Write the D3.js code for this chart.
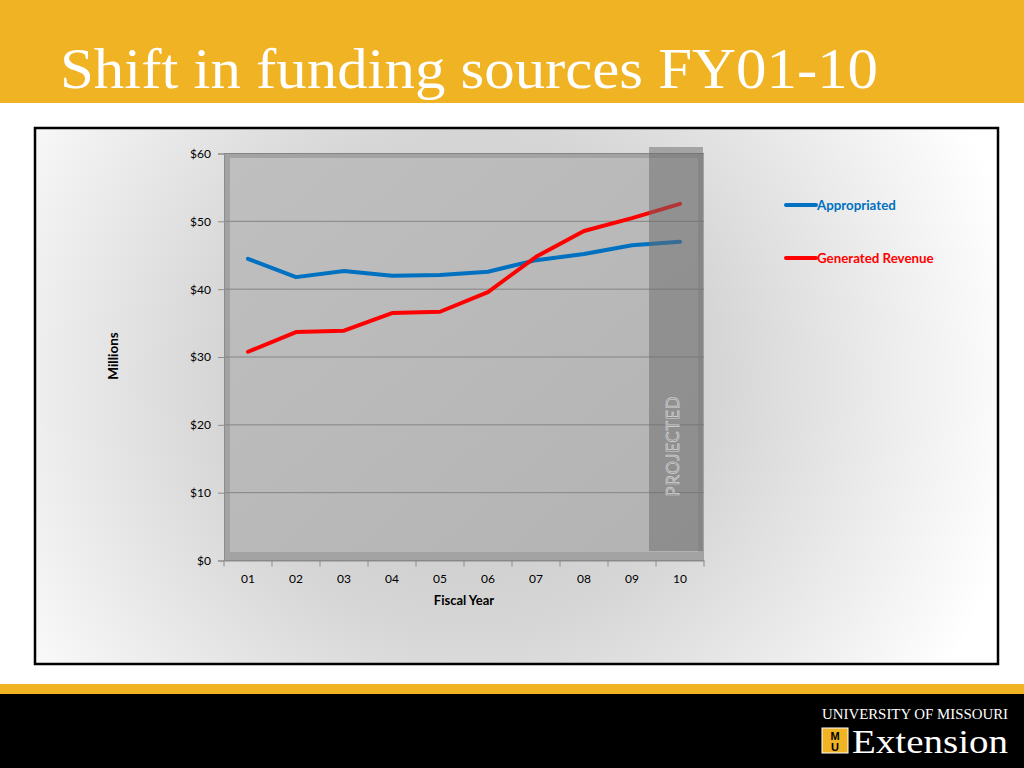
<!DOCTYPE html>
<html>
<head>
<meta charset="utf-8">
<script src="https://cdn.jsdelivr.net/npm/d3@7"></script>
<style>
  body { margin: 0; background: #fff; }
  svg { display: block; }
</style>
</head>
<body>
<svg id="slide" width="1024" height="768"></svg>
<script>
// chart values
var years = ['01', '02', '03', '04', '05', '06', '07', '08', '09', '10'];
var appropriated = [44.4, 41.7, 42.6, 41.9, 42.0, 42.5, 44.2, 45.1, 46.4, 46.9];
var generatedRevenue = [30.7, 33.6, 33.8, 36.4, 36.6, 39.5, 44.7, 48.5, 50.4, 52.5];
var yTicks = [0, 10, 20, 30, 40, 50, 60];
var projectedYears = ['10'];

var seriesList = [
  { name: 'Appropriated', values: appropriated, color: '#0070c0' },
  { name: 'Generated Revenue', values: generatedRevenue, color: '#ff0000' }
];

var svg = d3.select('#slide');
var defs = svg.append('defs');

/**
 * Slide frame: header, footer, chart box
 */
svg.append('rect')
  .attr('width', 1024).attr('height', 103)
  .attr('fill', '#f0b323');

svg.append('text')
  .attr('x', 60).attr('y', 88)
  .attr('fill', '#fff')
  .attr('font-family', '"Liberation Serif", "DejaVu Serif", serif')
  .attr('font-size', 56)
  .attr('textLength', 818)
  .attr('lengthAdjust', 'spacingAndGlyphs')
  .text('Shift in funding sources FY01-10');

var boxGrad = defs.append('radialGradient')
  .attr('id', 'box-grad')
  .attr('gradientUnits', 'userSpaceOnUse')
  .attr('cx', 470).attr('cy', 380).attr('r', 560);
boxGrad.append('stop').attr('offset', '0%').attr('stop-color', '#c4c4c4');
boxGrad.append('stop').attr('offset', '45%').attr('stop-color', '#d6d6d6');
boxGrad.append('stop').attr('offset', '100%').attr('stop-color', '#ffffff');

svg.append('rect')
  .attr('x', 35).attr('y', 128)
  .attr('width', 963).attr('height', 536)
  .attr('fill', 'url(#box-grad)')
  .attr('stroke', '#000')
  .attr('stroke-width', 2.5);

svg.append('rect')
  .attr('y', 684).attr('width', 1024).attr('height', 10)
  .attr('fill', '#f0b323');
svg.append('rect')
  .attr('y', 694).attr('width', 1024).attr('height', 74)
  .attr('fill', '#000');

// logo
var logo = svg.append('g');
logo.append('text')
  .attr('x', 822).attr('y', 719)
  .attr('fill', '#fff')
  .attr('font-family', '"Liberation Serif", serif')
  .attr('font-size', 14)
  .attr('textLength', 186)
  .attr('lengthAdjust', 'spacingAndGlyphs')
  .text('UNIVERSITY OF MISSOURI');
logo.append('rect')
  .attr('x', 822).attr('y', 728)
  .attr('width', 26).attr('height', 25)
  .attr('fill', '#f0b323')
  .attr('stroke', '#fff').attr('stroke-width', 1);
logo.append('text')
  .attr('x', 835).attr('y', 740)
  .attr('text-anchor', 'middle')
  .attr('fill', '#000')
  .attr('font-family', '"Liberation Sans", sans-serif')
  .attr('font-weight', 'bold')
  .attr('font-size', 11)
  .text('M');
logo.append('text')
  .attr('x', 835).attr('y', 751)
  .attr('text-anchor', 'middle')
  .attr('fill', '#000')
  .attr('font-family', '"Liberation Sans", sans-serif')
  .attr('font-weight', 'bold')
  .attr('font-size', 11)
  .text('U');
logo.append('text')
  .attr('x', 852).attr('y', 753)
  .attr('fill', '#fff')
  .attr('font-family', '"Liberation Serif", serif')
  .attr('font-size', 33)
  .attr('textLength', 156)
  .attr('lengthAdjust', 'spacingAndGlyphs')
  .text('Extension');

/**
 * Chart
 */
var plot = { left: 224, right: 704, top: 153, bottom: 560 };

var x = d3.scaleBand()
  .domain(years)
  .range([plot.left, plot.right]);

var y = d3.scaleLinear()
  .domain([0, 60])
  .range([plot.bottom, plot.top]);

var chart = svg.append('g').attr('id', 'chart');

// plot area (3d-ish frame like the original)
var wallGrad = defs.append('linearGradient')
  .attr('id', 'wall-grad')
  .attr('x1', 0).attr('y1', 0).attr('x2', 1).attr('y2', 1);
wallGrad.append('stop').attr('offset', '0%').attr('stop-color', '#bfbfbf');
wallGrad.append('stop').attr('offset', '100%').attr('stop-color', '#b3b3b3');

chart.append('rect')
  .attr('x', plot.left).attr('y', plot.top)
  .attr('width', plot.right - plot.left)
  .attr('height', plot.bottom - plot.top)
  .attr('fill', '#a3a3a3');
chart.append('rect')
  .attr('x', plot.left + 6).attr('y', plot.top + 5)
  .attr('width', plot.right - plot.left - 12)
  .attr('height', plot.bottom - plot.top - 13)
  .attr('fill', 'url(#wall-grad)');

// gridlines
chart.append('g')
  .selectAll('line')
  .data(yTicks)
  .enter()
  .append('line')
  .attr('x1', plot.left).attr('x2', plot.right)
  .attr('y1', function (d) { return y(d) + 0.5; })
  .attr('y2', function (d) { return y(d) + 0.5; })
  .attr('stroke', '#858585')
  .attr('stroke-width', 1);

// y axis
var yAxis = chart.append('g')
  .attr('transform', 'translate(' + plot.left + ',0.5)')
  .call(d3.axisLeft(y)
    .tickValues(yTicks)
    .tickSize(6)
    .tickPadding(7)
    .tickFormat(function (d) { return '$' + d; }));
yAxis.select('.domain').attr('stroke', '#8c8c8c');
yAxis.selectAll('.tick line').attr('stroke', '#8c8c8c');
yAxis.selectAll('text')
  .attr('fill', '#000')
  .attr('font-family', 'Lato, "Open Sans", sans-serif')
  .attr('font-size', 12);

// x axis
var xAxis = chart.append('g')
  .attr('transform', 'translate(0,' + (plot.bottom + 0.5) + ')')
  .call(d3.axisBottom(x).tickSize(0).tickPadding(14));
xAxis.select('.domain').attr('stroke', '#8c8c8c');
xAxis.selectAll('text')
  .attr('fill', '#000')
  .attr('font-family', 'Lato, "Open Sans", sans-serif')
  .attr('font-size', 12);

// category boundary ticks
xAxis.selectAll('line.boundary')
  .data(years.concat(['end']))
  .enter()
  .append('line')
  .attr('class', 'boundary')
  .attr('x1', function (d, i) { return plot.left + i * x.step(); })
  .attr('x2', function (d, i) { return plot.left + i * x.step(); })
  .attr('y1', 0).attr('y2', 6)
  .attr('stroke', '#8c8c8c');

chart.append('text')
  .attr('x', 118).attr('y', 356)
  .attr('transform', 'rotate(-90,118,356)')
  .attr('text-anchor', 'middle')
  .attr('font-family', 'Lato, "Open Sans", sans-serif')
  .attr('font-weight', 'bold')
  .attr('font-size', 13.5)
  .text('Millions');

chart.append('text')
  .attr('x', (plot.left + plot.right) / 2).attr('y', 605)
  .attr('text-anchor', 'middle')
  .attr('font-family', 'Lato, "Open Sans", sans-serif')
  .attr('font-weight', 'bold')
  .attr('font-size', 13)
  .text('Fiscal Year');

// lines
var drawLine = d3.line()
  .x(function (d, i) { return x(years[i]) + x.bandwidth() / 2; })
  .y(function (d) { return y(d); });

chart.append('g')
  .selectAll('path')
  .data(seriesList)
  .enter()
  .append('path')
  .attr('d', function (d) { return drawLine(d.values); })
  .attr('fill', 'none')
  .attr('stroke', function (d) { return d.color; })
  .attr('stroke-width', 4)
  .attr('stroke-linejoin', 'round')
  .attr('stroke-linecap', 'round');

// projected band over the last year
var projected = chart.append('g')
  .selectAll('g')
  .data(projectedYears)
  .enter()
  .append('g');

projected.append('rect')
  .attr('x', function (d) { return x(d) - 7; })
  .attr('y', plot.top - 6)
  .attr('width', x.step() + 6)
  .attr('height', plot.bottom - plot.top - 3)
  .attr('fill', '#6a6a6a')
  .attr('fill-opacity', 0.5);

projected.append('text')
  .attr('transform', function (d) {
    return 'translate(' + (x(d) + x.step() / 2 - 1) + ',446) rotate(-90)';
  })
  .attr('text-anchor', 'middle')
  .attr('fill', '#8e8e8e')
  .attr('stroke', '#d4d4d4')
  .attr('stroke-width', 0.7)
  .attr('font-family', 'Lato, "Open Sans", sans-serif')
  .attr('font-size', 16.5)
  .attr('letter-spacing', 1)
  .text('PROJECTED');

// legend
var legend = svg.append('g')
  .selectAll('g')
  .data(seriesList)
  .enter()
  .append('g')
  .attr('transform', function (d, i) {
    return 'translate(786,' + (205 + i * 53) + ')';
  });

legend.append('line')
  .attr('x1', 0).attr('x2', 30)
  .attr('stroke', function (d) { return d.color; })
  .attr('stroke-width', 4)
  .attr('stroke-linecap', 'round');

legend.append('text')
  .attr('x', 31).attr('y', 4.5)
  .attr('fill', function (d) { return d.color; })
  .attr('font-family', 'Lato, "Open Sans", sans-serif')
  .attr('font-weight', 'bold')
  .attr('font-size', 13.3)
  .text(function (d) { return d.name; });
</script>
</body>
</html>
